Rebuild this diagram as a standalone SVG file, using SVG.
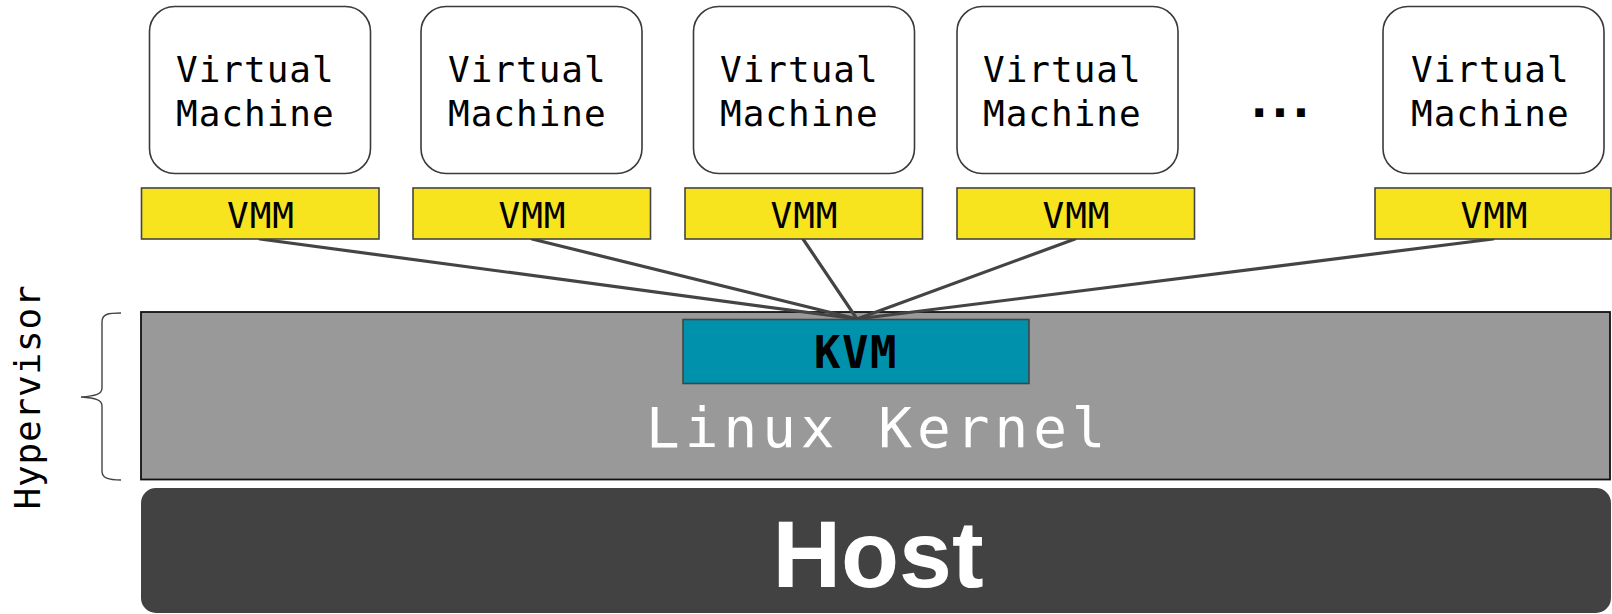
<svg xmlns="http://www.w3.org/2000/svg" width="1612" height="614" viewBox="0 0 1612 614">
<style>
.vm{fill:#fff;stroke:#3a3a3a;stroke-width:1.6}
.vmm{fill:#f7e41f;stroke:#444;stroke-width:1.6}
.mono{font-family:"DejaVu Sans Mono","Liberation Mono",monospace}
.vmt{font-size:36px;letter-spacing:1px;fill:#000}
.vmmt{font-size:36px;letter-spacing:1px;fill:#000;text-anchor:middle}
.conn{stroke:#444;stroke-width:3.2;fill:none;stroke-linecap:round}
</style>
<rect width="1612" height="614" fill="#fff"/>
<g id="hypervisor-label">
<text class="mono" transform="translate(40,397) rotate(-90)" text-anchor="middle" font-size="36" letter-spacing="0.8" fill="#000">Hypervisor</text>
<path d="M121,313 C108,313 102,314 102,322 L102,388 C102,394 96,396 81,397 C96,398 102,400 102,406 L102,471 C102,478 108,480 121,480" fill="none" stroke="#444" stroke-width="1.4"/>
</g>
<g id="host">
<rect x="141" y="488" width="1470" height="125" rx="15" ry="15" fill="#424242"/>
<text x="878" y="587" text-anchor="middle" font-family="'Liberation Sans',Arial,sans-serif" font-weight="bold" font-size="95" fill="#fff">Host</text>
</g>
<g id="linux-kernel">
<rect x="141" y="312" width="1469" height="167.5" fill="#999" stroke="#111" stroke-width="1.8"/>
<text class="mono" x="646" y="447" font-size="56" letter-spacing="5" fill="#fff">Linux Kernel</text>
</g>
<g id="connectors">
<line class="conn" x1="260" y1="239" x2="857" y2="319"/>
<line class="conn" x1="532" y1="239" x2="857" y2="319"/>
<line class="conn" x1="803" y1="239" x2="857" y2="319"/>
<line class="conn" x1="1075" y1="239" x2="857" y2="319"/>
<line class="conn" x1="1493" y1="239" x2="857" y2="319"/>
</g>
<g id="kvm">
<rect x="683" y="319.5" width="346" height="64" fill="#0092ad" stroke="#444" stroke-width="1.6"/>
<text class="mono" x="856" y="368" text-anchor="middle" font-size="44" font-weight="bold" letter-spacing="1.5" fill="#000">KVM</text>
</g>
<g id="vm1">
<rect class="vm" x="149.5" y="6.5" width="221" height="167" rx="25"/>
<text class="mono vmt" x="176" y="82">Virtual</text>
<text class="mono vmt" x="176" y="126">Machine</text>
</g>
<g id="vm2">
<rect class="vm" x="421" y="6.5" width="221" height="167" rx="25"/>
<text class="mono vmt" x="448" y="82">Virtual</text>
<text class="mono vmt" x="448" y="126">Machine</text>
</g>
<g id="vm3">
<rect class="vm" x="693.5" y="6.5" width="221" height="167" rx="25"/>
<text class="mono vmt" x="720" y="82">Virtual</text>
<text class="mono vmt" x="720" y="126">Machine</text>
</g>
<g id="vm4">
<rect class="vm" x="957" y="6.5" width="221" height="167" rx="25"/>
<text class="mono vmt" x="983" y="82">Virtual</text>
<text class="mono vmt" x="983" y="126">Machine</text>
</g>
<g id="ellipsis">
<text class="mono" x="1276" y="117" text-anchor="middle" font-size="48" font-weight="bold" letter-spacing="-8" fill="#000">...</text>
</g>
<g id="vm5">
<rect class="vm" x="1383" y="6.5" width="221" height="167" rx="25"/>
<text class="mono vmt" x="1411" y="82">Virtual</text>
<text class="mono vmt" x="1411" y="126">Machine</text>
</g>
<g id="vmm1">
<rect class="vmm" x="141.5" y="188" width="237.5" height="51"/>
<text class="mono vmmt" x="261" y="228">VMM</text>
</g>
<g id="vmm2">
<rect class="vmm" x="413" y="188" width="237.5" height="51"/>
<text class="mono vmmt" x="532.5" y="228">VMM</text>
</g>
<g id="vmm3">
<rect class="vmm" x="685" y="188" width="237.5" height="51"/>
<text class="mono vmmt" x="804.5" y="228">VMM</text>
</g>
<g id="vmm4">
<rect class="vmm" x="957" y="188" width="237.5" height="51"/>
<text class="mono vmmt" x="1076.5" y="228">VMM</text>
</g>
<g id="vmm5">
<rect class="vmm" x="1375" y="188" width="236" height="51"/>
<text class="mono vmmt" x="1494.5" y="228">VMM</text>
</g>
</svg>
